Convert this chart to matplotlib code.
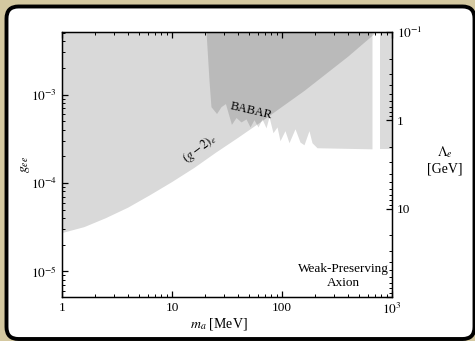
import matplotlib
matplotlib.use('Agg')
import matplotlib.pyplot as plt
import matplotlib.ticker as ticker
from matplotlib.patches import FancyBboxPatch
from matplotlib.transforms import IdentityTransform

plt.rcParams['font.family'] = ['Liberation Serif', 'DejaVu Serif']
plt.rcParams['mathtext.fontset'] = 'stix'

# (g-2)_e excluded region, lower boundary (m_a in MeV, g_ee)
g2_mass = [1, 1.6, 2.5, 4, 6.3, 10, 16, 25, 40, 63, 100, 160, 250, 400, 630, 1000]
g2_coupling = [2.70e-5, 3.16e-5, 3.98e-5, 5.25e-5, 7.24e-5, 1.02e-4, 1.48e-4,
               2.19e-4, 3.24e-4, 4.79e-4, 7.24e-4, 1.10e-3, 1.70e-3, 2.69e-3,
               4.37e-3, 7.08e-3]

# BABAR excluded region, lower boundary
babar_mass = [20.4, 21.7, 22.6, 25.4, 27.9, 30.6, 34.7, 38.2, 42.4, 47.1,
              51.2, 55.6, 60.5, 65.8, 71.6, 76.2, 82.8, 90.1, 95.9, 106.4,
              115.8, 131.3, 145.8, 158.5, 175.9, 187.4, 208, 658]
babar_coupling = [5.1e-3, 1.44e-3, 7.3e-4, 6.1e-4, 7.3e-4, 7.9e-4, 4.6e-4,
                  5.5e-4, 4.9e-4, 5.3e-4, 4.3e-4, 5.2e-4, 4.3e-4, 5.3e-4,
                  4.2e-4, 5.6e-4, 3.7e-4, 4.3e-4, 3.0e-4, 3.9e-4, 2.85e-4,
                  4.1e-4, 2.9e-4, 2.7e-4, 3.9e-4, 2.85e-4, 2.5e-4, 2.43e-4]
babar_strip_mass = [780, 1000]
babar_strip_coupling = [2.43e-4, 2.43e-4]

m_e = 0.511e-3  # GeV, Lambda_e = m_e / g_ee
xlim = (1, 1000)
ylim = (5.11e-6, 5.11e-3)

x_ticks = [1, 10, 100, 1000]
x_ticklabels = ['1', '10', '100', '$10^3$']
y_ticks = [1e-5, 1e-4, 1e-3]
y_ticklabels = ['$10^{-5}$', '$10^{-4}$', '$10^{-3}$']
lam_ticks = [0.1, 1, 10, 100]
lam_ticklabels = ['$10^{-1}$', '1', '10', '']

fig = plt.figure(figsize=(4.75, 3.41), dpi=100, facecolor='#d4c8a0')
frame = FancyBboxPatch((6.5, 2), 468, 332.5, boxstyle='round,pad=0,rounding_size=12',
                       transform=IdentityTransform(), facecolor='white',
                       edgecolor='black', linewidth=2.8, zorder=-1)
fig.add_artist(frame)

ax = fig.add_axes([62 / 475, 44 / 341, 330 / 475, 265 / 341])
ax.set_xscale('log')
ax.set_yscale('log')

ax.fill_between(g2_mass, g2_coupling, 1.0, color='k', alpha=0.15, lw=0)
ax.fill_between(babar_mass, babar_coupling, 1.0, color='k', alpha=0.14, lw=0)
ax.fill_between(babar_strip_mass, babar_strip_coupling, 1.0, color='k', alpha=0.14, lw=0)

ax.set_xlim(*xlim)
ax.set_ylim(*ylim)

ax.set_xticks(x_ticks)
ax.set_xticklabels(x_ticklabels)
ax.set_yticks(y_ticks)
ax.set_yticklabels(y_ticklabels)
ax.xaxis.set_minor_formatter(ticker.NullFormatter())
ax.yaxis.set_minor_formatter(ticker.NullFormatter())
ax.tick_params(which='both', direction='in', top=True, right=False, labelsize=9.5)
ax.tick_params(which='major', length=4.5, width=0.9)
ax.tick_params(which='minor', length=2.5, width=0.7)
for s in ax.spines.values():
    s.set_linewidth(1.0)

ax2 = ax.twinx()
ax2.set_yscale('log')
ax2.set_ylim(m_e / ylim[0], m_e / ylim[1])
ax2.set_yticks(lam_ticks)
ax2.set_yticklabels(lam_ticklabels)
ax2.yaxis.set_minor_formatter(ticker.NullFormatter())
ax2.tick_params(which='both', direction='in', labelsize=9.5)
ax2.tick_params(which='major', length=4.5, width=0.9)
ax2.tick_params(which='minor', length=2.5, width=0.7)

ax.text(-0.112, 0.5, '$g_{ee}$', transform=ax.transAxes, rotation=90,
        ha='center', va='center', fontsize=10)
ax.text(0.476, -0.102, '$m_a$ [MeV]', transform=ax.transAxes,
        ha='center', va='center', fontsize=10)
ax.text(1.16, 0.517, '$\\Lambda_e$\n[GeV]', transform=ax.transAxes,
        ha='center', va='center', fontsize=10, multialignment='center')
ax.text(0.852, 0.079, 'Weak-Preserving\nAxion', transform=ax.transAxes,
        ha='center', va='center', fontsize=9.5, multialignment='center')

ax.text(52.8, 6.5e-4, 'BABAR', rotation=-13, ha='center', va='center', fontsize=9)
ax.text(18, 2.45e-4, '$(g-2)_e$', rotation=37, ha='center', va='center', fontsize=9)

fig.savefig('out.png', dpi=100)
